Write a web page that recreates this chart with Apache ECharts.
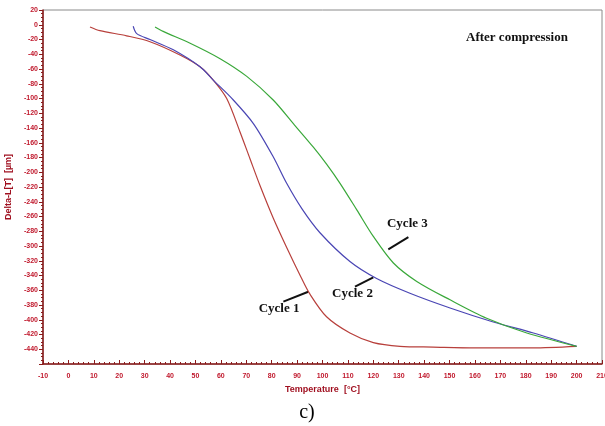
<!DOCTYPE html>
<html>
<head>
    <meta charset="utf-8">
    <title>After compression</title>
    <script src="https://cdn.jsdelivr.net/npm/echarts@6/dist/echarts.min.js"></script>
    <style>
        html, body { margin: 0; padding: 0; background: #ffffff; }
        #chart { width: 605px; height: 426px; }
    </style>
</head>
<body>
<div id="chart"></div>
<script>
    // values: temperature [°C] and Delta-L [µm]
    var cycle1T = [8.5, 12.4, 22.9, 32.1, 43.9, 51.8, 57, 62.3, 67.5, 71.5, 75.4, 80.6, 85.9, 91.5, 95, 101.6, 110.8, 120, 130.5, 143.5, 160, 182.8, 200];
    var cycle1V = [-3, -8, -15, -23, -41, -57, -75, -100, -145, -182, -218, -262, -302, -342, -365, -396, -418, -431, -436, -437, -438, -438, -436];

    var cycle2T = [25.5, 26.9, 32.1, 41.3, 51.8, 57, 64.9, 72.8, 80.6, 85.9, 92, 99, 110.8, 121.3, 134.4, 150.2, 167.2, 183, 200];
    var cycle2V = [-2, -12, -20, -34, -57, -75, -102, -134, -179, -215, -250, -282, -321, -344, -364, -384, -403, -418, -436];

    var cycle3T = [34.1, 37.3, 47.9, 59.7, 70.2, 80.6, 89, 96.4, 101.6, 106.9, 113.5, 120, 127.9, 137.1, 150.2, 164.6, 180.4, 200];
    var cycle3V = [-3, -9, -25, -46, -70, -102, -136, -166, -189, -215, -251, -287, -323, -348, -373, -398, -418, -436];

    var seriesNames = ['Cycle 1', 'Cycle 2', 'Cycle 3'];

    // label text centre and leader line ends, in data units
    var labelT = [82.9, 111.8, 133.4];
    var labelV = [-385, -364, -270];
    var leaderFrom = [[84.6, -375.5], [112.8, -355], [125.9, -304.5]];
    var leaderTo = [[94.4, -362], [120, -342.5], [133.8, -288]];

    function zip(xs, ys) {
        var out = [];
        for (var i = 0; i < xs.length; i++) out.push([xs[i], ys[i]]);
        return out;
    }

    var axisRed = '#c0182c';
    var axisDark = '#8b1a1a';

    var chart = echarts.init(document.getElementById('chart'));
    chart.setOption({
        animation: false,
        grid: {
            left: 43, right: 3, top: 10, bottom: 62,
            outerBoundsMode: 'none', containLabel: false,
            show: true, borderColor: '#8a8a8a', borderWidth: 1
        },
        xAxis: {
            type: 'value', min: -10, max: 210, interval: 10,
            name: 'Temperature  [°C]', nameLocation: 'middle', nameGap: 19,
            nameTextStyle: { color: '#a01020', fontSize: 9, fontWeight: 'bold', fontFamily: 'Liberation Sans' },
            axisLine: { show: true, onZero: false, lineStyle: { color: axisDark, width: 1.5 } },
            axisTick: { show: true, inside: true, length: 4, lineStyle: { color: axisDark } },
            minorTick: { show: true, splitNumber: 5, length: 2, lineStyle: { color: axisDark } },
            axisLabel: { color: axisRed, fontSize: 7, fontWeight: 'bold', fontFamily: 'Liberation Sans', margin: 9 },
            splitLine: { show: false }
        },
        yAxis: {
            type: 'value', min: -460, max: 20, interval: 20,
            name: 'Delta-L[T]  [µm]', nameLocation: 'middle', nameGap: 28,
            nameTextStyle: { color: '#a01020', fontSize: 9, fontWeight: 'bold', fontFamily: 'Liberation Sans' },
            axisLine: { show: true, onZero: false, lineStyle: { color: axisDark, width: 1.5 } },
            axisTick: { show: true, inside: false, length: 4, lineStyle: { color: axisDark } },
            minorTick: { show: true, splitNumber: 4, length: 2, lineStyle: { color: axisDark } },
            axisLabel: {
                color: axisRed, fontSize: 7, fontWeight: 'bold', fontFamily: 'Liberation Sans', margin: 5,
                formatter: function (v) { return v === -460 ? '' : String(v); }
            },
            splitLine: { show: false }
        },
        series: [
            {
                name: seriesNames[0], type: 'line', data: zip(cycle1T, cycle1V),
                showSymbol: false, smooth: 0.3, lineStyle: { color: '#b8403c', width: 1.2 }
            },
            {
                name: seriesNames[1], type: 'line', data: zip(cycle2T, cycle2V),
                showSymbol: false, smooth: 0.3, lineStyle: { color: '#4a46b4', width: 1.2 }
            },
            {
                name: seriesNames[2], type: 'line', data: zip(cycle3T, cycle3V),
                showSymbol: false, smooth: 0.3, lineStyle: { color: '#3aa83a', width: 1.2 }
            }
        ]
    });

    // curve labels and leader lines, placed through the grid's own scales
    var graphics = [];
    for (var i = 0; i < seriesNames.length; i++) {
        var p = chart.convertToPixel({ gridIndex: 0 }, [labelT[i], labelV[i]]);
        var a = chart.convertToPixel({ gridIndex: 0 }, leaderFrom[i]);
        var b = chart.convertToPixel({ gridIndex: 0 }, leaderTo[i]);
        graphics.push({
            type: 'text', x: p[0], y: p[1],
            style: {
                text: seriesNames[i], fill: '#111', font: 'bold 13px "Liberation Serif"',
                align: 'center', verticalAlign: 'middle'
            }
        });
        graphics.push({
            type: 'line', shape: { x1: a[0], y1: a[1], x2: b[0], y2: b[1] },
            style: { stroke: '#111', lineWidth: 2 }
        });
    }
    graphics.push({
        type: 'text', x: 517, y: 38,
        style: { text: 'After compression', fill: '#111', font: 'bold 13px "Liberation Serif"', align: 'center', verticalAlign: 'middle' }
    });
    graphics.push({
        type: 'text', x: 307, y: 413,
        style: { text: 'c)', fill: '#000', font: '20px "Liberation Serif"', align: 'center', verticalAlign: 'middle' }
    });
    chart.setOption({ graphic: graphics });
</script>
</body>
</html>
